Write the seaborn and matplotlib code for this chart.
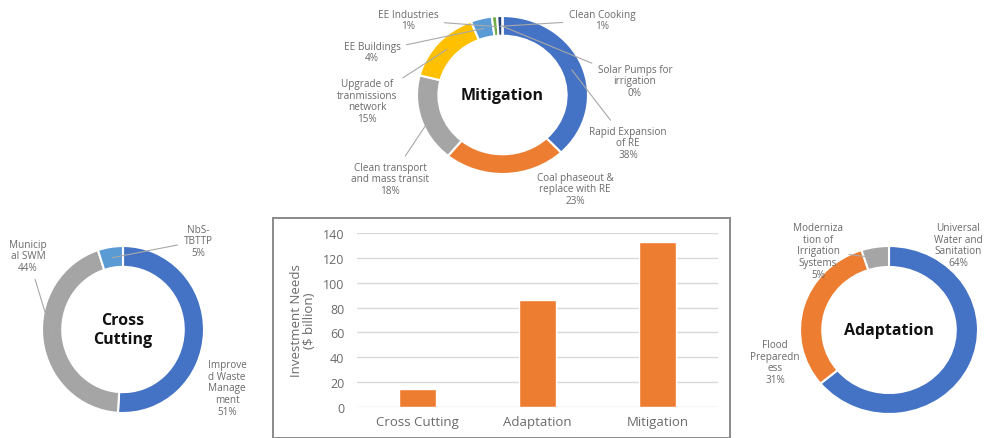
import numpy as np
import matplotlib
matplotlib.use("Agg")
import matplotlib.pyplot as plt
import seaborn as sns
from matplotlib.patches import Rectangle

# ---------------- data ----------------
bar_categories = ["Cross Cutting", "Adaptation", "Mitigation"]
bar_values = [14.5, 86, 133]
bar_yticks = [0, 20, 40, 60, 80, 100, 120, 140]

mit_labels = ["Rapid Expansion\nof RE", "Coal phaseout &\nreplace with RE",
              "Clean transport\nand mass transit", "Upgrade of\ntranmissions\nnetwork",
              "EE Buildings", "EE Industries", "Clean Cooking", "Solar Pumps for\nirrigation"]
mit_values = [38, 23, 18, 15, 4, 1, 1, 0]

cc_labels = ["Improve\nd Waste\nManage\nment", "Municip\nal SWM", "NbS-\nTBTTP"]
cc_values = [51, 44, 5]

ad_labels = ["Universal\nWater and\nSanitation", "Flood\nPreparedn\ness",
             "Moderniza\ntion of\nIrrigation\nSystems"]
ad_values = [64, 31, 5]

# ---------------- styles ----------------
BLUE, ORANGE, GRAY, YELLOW = "#4472C4", "#ED7D31", "#A5A5A5", "#FFC000"
LBLUE, GREEN, NAVY, BROWN = "#5B9BD5", "#70AD47", "#264478", "#9E480E"
mit_colors = [BLUE, ORANGE, GRAY, YELLOW, LBLUE, GREEN, NAVY, BROWN]
cc_colors = [BLUE, GRAY, LBLUE]
ad_colors = [BLUE, ORANGE, GRAY]
TXT = "#6a6a6a"

sns.set_theme(style="white")
plt.rcParams["font.family"] = ["Open Sans", "DejaVu Sans"]

W, H = 987, 439
fig = plt.figure(figsize=(W / 100, H / 100), dpi=100)

LFS = 7.2
LSP = 1.12


def donut(cx, cy, rx, ry, values, colors, labels, label_pos, leaders, title):
    ax = fig.add_axes([(cx - rx) / W, (H - cy - ry) / H, 2 * rx / W, 2 * ry / H])
    ax.pie(values, colors=colors, startangle=90, counterclock=False, radius=1,
           wedgeprops=dict(width=0.25, edgecolor="white", linewidth=1.5))
    ax.set_aspect("auto")
    ax.set_xlim(-1, 1)
    ax.set_ylim(-1, 1)
    ax.axis("off")
    ax.text(0, 0, title, ha="center", va="center", fontsize=11.5,
            fontweight="bold", color="#111111", linespacing=1.2)
    tot = sum(values)
    cum = 0
    for v, lab, (tx, ty), lead in zip(values, labels, label_pos, leaders):
        mid = 90 - (cum + v / 2) / tot * 360
        cum += v
        ang = np.deg2rad(mid)
        pt = (0.87 * np.cos(ang), 0.87 * np.sin(ang))
        txt = f"{lab}\n{round(v / tot * 100)}%"
        if lead:
            ax.annotate(txt, xy=pt, xycoords="data", xytext=(tx, H - ty),
                        textcoords="figure pixels", ha="center", va="center",
                        fontsize=LFS, color=TXT, linespacing=LSP,
                        arrowprops=dict(arrowstyle="-", color="#a8a8a8", lw=0.8,
                                        shrinkA=2, shrinkB=0))
        else:
            fig.text(tx / W, 1 - ty / H, txt, ha="center", va="center",
                     fontsize=LFS, color=TXT, linespacing=LSP)
    return ax


# Mitigation
donut(502.5, 96, 85.5, 79, mit_values, mit_colors, mit_labels,
      [(628, 144), (575, 190), (390, 180), (367, 102), (372, 53), (408, 21),
       (602, 21), (635, 82)],
      [True, False, True, True, True, True, True, True], "Mitigation")

# Cross Cutting
donut(123, 330.5, 81, 83.5, cc_values, cc_colors, cc_labels,
      [(227, 389), (28, 257), (198, 242)],
      [False, True, True], "Cross\nCutting")

# Adaptation
donut(889, 331, 89, 84, ad_values, ad_colors, ad_labels,
      [(958, 246), (775, 363), (818, 252)],
      [False, False, True], "Adaptation")

# ---------------- bar chart ----------------
fig.patches.append(Rectangle((273 / W, 0), (730 - 273) / W, (H - 219) / H,
                             transform=fig.transFigure, fill=False,
                             edgecolor="#8a8a8a", linewidth=1.4, zorder=0))

axb = fig.add_axes([357 / W, (H - 408) / H, (718 - 357) / W, (408 - 234) / H])
sns.barplot(x=bar_categories, y=bar_values, color=ORANGE, saturation=1,
            width=0.31, ax=axb, zorder=3)
axb.set_ylim(0, 140)
axb.set_xlim(-0.5, 2.5)
axb.set_yticks(bar_yticks)
axb.yaxis.grid(True, color="#d9d9d9", linewidth=1, zorder=0)
axb.set_axisbelow(True)
for s in axb.spines.values():
    s.set_visible(False)
axb.tick_params(axis="both", length=0, colors=TXT)
axb.tick_params(axis="y", labelsize=9, pad=9)
axb.tick_params(axis="x", labelsize=9.5, pad=6)
axb.set_ylabel("Investment Needs\n($ billion)", fontsize=9.5, color=TXT,
               labelpad=5, linespacing=1.05)
axb.set_xlabel("")

fig.savefig("out.png", dpi=100)
